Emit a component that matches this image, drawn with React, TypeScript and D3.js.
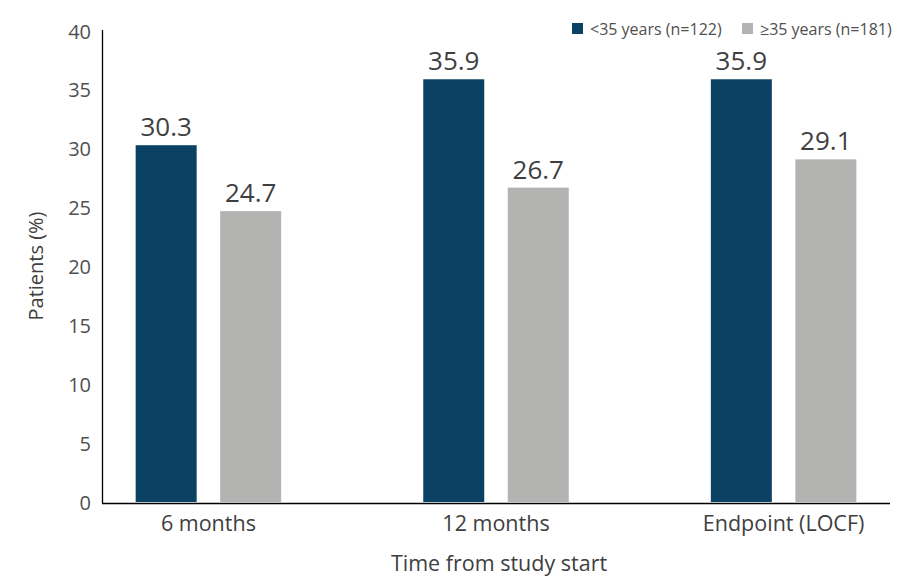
import React from "react";
import * as d3 from "d3";

const categories = ["6 months", "12 months", "Endpoint (LOCF)"];
const seriesNames = ["<35 years (n=122)", "≥35 years (n=181)"];
const under35 = [30.3, 35.9, 35.9];
const over35 = [24.7, 26.7, 29.1];
const yTicks = [0, 5, 10, 15, 20, 25, 30, 35, 40];

const WIDTH = 917;
const HEIGHT = 578;
const COLORS = ["#0b4263", "#b3b3b2"];
const FONT = "'Open Sans', 'Noto Sans', sans-serif";

export default function App() {
  const x = d3.scalePoint<string>().domain(categories).range([102, 890]).padding(0.37);
  const y = d3.scaleLinear().domain([0, 40]).range([502, 31]);
  const barW = 61;
  const offset = 42.25;
  const series = [under35, over35];

  return (
    <svg
      width={WIDTH}
      height={HEIGHT}
      style={{ position: "absolute", left: 0, top: 0, background: "#fff" }}
      fontFamily={FONT}
    >
      {/* bars and value labels */}
      {series.map((vals, si) =>
        vals.map((v, i) => {
          const cx = (x(categories[i]) as number) + (si === 0 ? -offset : offset);
          return (
            <g key={`${si}-${i}`}>
              <rect x={cx - barW / 2} y={y(v)} width={barW} height={y(0) - y(v)} fill={COLORS[si]} />
              <text x={cx} y={y(v) - 9} textAnchor="middle" fontSize={26} fill="#3f3f3f">
                {v.toFixed(1)}
              </text>
            </g>
          );
        })
      )}

      {/* axes */}
      <line x1={102.5} x2={102.5} y1={30} y2={503.5} stroke="#000" strokeWidth={1.3} />
      <line x1={102} x2={890} y1={503.5} y2={503.5} stroke="#000" strokeWidth={1.3} />

      {yTicks.map((t) => (
        <text key={t} x={91} y={y(t)} textAnchor="end" dominantBaseline="central" fontSize={20} fill="#505050">
          {t}
        </text>
      ))}

      {categories.map((c) => (
        <text key={c} x={x(c) as number} y={531} textAnchor="middle" fontSize={21.5} fill="#404040">
          {c}
        </text>
      ))}

      <text x={499} y={571} textAnchor="middle" fontSize={21.5} fill="#404040">
        Time from study start
      </text>
      <text
        transform="translate(43,266) rotate(-90)"
        textAnchor="middle"
        fontSize={20}
        fill="#404040"
      >
        Patients (%)
      </text>

      {/* legend */}
      {seriesNames.map((name, i) => {
        const lx = i === 0 ? 572 : 742;
        return (
          <g key={name}>
            <rect x={lx} y={23} width={11} height={11} fill={COLORS[i]} />
            <text x={lx + 18} y={28.5} dominantBaseline="central" fontSize={16} fill="#505050">
              {name}
            </text>
          </g>
        );
      })}
    </svg>
  );
}
